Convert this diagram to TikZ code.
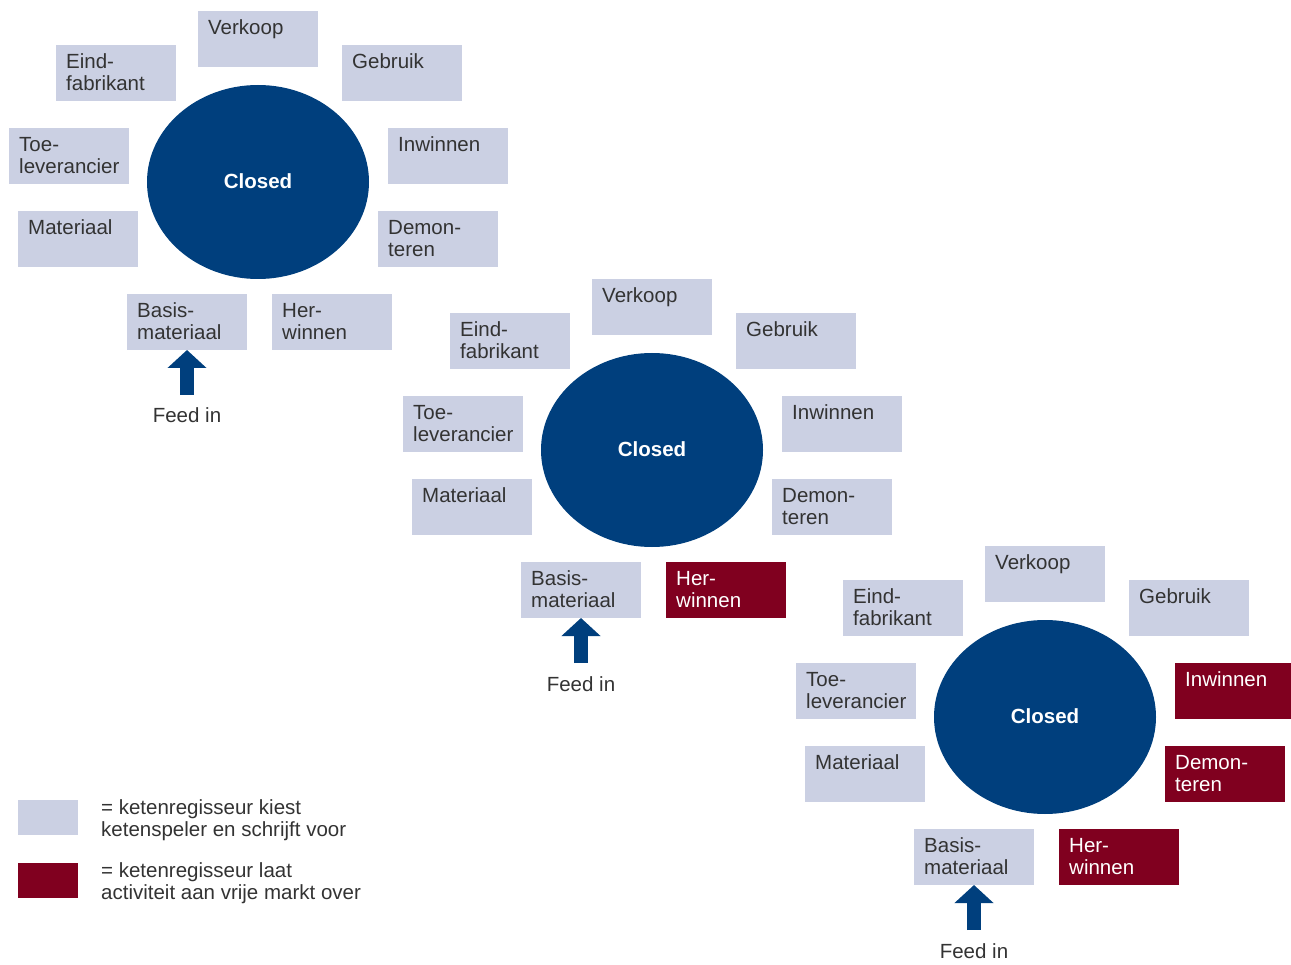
\documentclass[tikz,border=0pt]{standalone}
\usepackage{fontspec}
\setmainfont{Liberation Sans}
\usetikzlibrary{arrows.meta,shapes.geometric}

\definecolor{pale}{HTML}{CBD0E3}
\definecolor{wine}{HTML}{80001F}
\definecolor{navy}{HTML}{003F7D}
\definecolor{keptink}{HTML}{333333}
\definecolor{freedink}{HTML}{FFFFFF}

\tikzset{
  cell/.style={rectangle, anchor=north west, minimum width=120pt, minimum height=56pt,
    inner sep=0pt, outer sep=0pt},
  kept/.style={cell, fill=pale},
  freed/.style={cell, fill=wine},
  celltext/.style={anchor=north west, inner sep=0pt, align=left,
    font=\fontsize{20.5}{22}\selectfont},
  hub/.style={ellipse, fill=navy, minimum width=222pt, minimum height=194pt, inner sep=0pt,
    text=white, font=\fontsize{20.5}{24}\selectfont\bfseries},
  feedarrow/.style={navy, line width=14pt, -{Triangle[width=38pt,length=18pt]}},
  plain/.style={inner sep=0pt, text=keptink, align=left, font=\fontsize{20.5}{22}\selectfont},
  swatch/.style={rectangle, anchor=north west, minimum width=60pt, minimum height=35pt,
    inner sep=0pt, outer sep=0pt},
}

% one activity box: name, x, y, style (kept/freed), text
% (\strut fixes the first line's height, so the text hangs from the box top)
\newcommand\activity[5]{%
  \node[#4] (#1) at (#2,#3) {};
  \node[celltext, text=#4ink] (#1t) at ([shift={(10,8.1)}]#1.north west) {\strut #5};
}

% one chain around a "Closed" hub: prefix, x and y offset, styles of Inwinnen, Demonteren, Herwinnen
\newcommand\cyclegroup[6]{%
  \begin{scope}[shift={(#2,#3)}]
    \node[hub] (#1c) at (258,182) {\raisebox{1.5pt}{Closed}};
    \activity{#1ver}{198}{11}{kept}{Verkoop}
    \activity{#1eind}{56}{45}{kept}{Eind-\\fabrikant}
    \activity{#1geb}{342}{45}{kept}{Gebruik}
    \activity{#1toe}{9}{128}{kept}{Toe-\\leverancier}
    \activity{#1inw}{388}{128}{#4}{Inwinnen}
    \activity{#1mat}{18}{211}{kept}{Materiaal}
    \activity{#1dem}{378}{211}{#5}{Demon-\\teren}
    \activity{#1bas}{127}{294}{kept}{Basis-\\materiaal}
    \activity{#1her}{272}{294}{#6}{Her-\\winnen}
    \coordinate (#1f) at (187,395);
    \draw[feedarrow] (#1f) -- (#1bas.south);
    \node[plain, anchor=base] (#1feed) at (187,423) {Feed in};
  \end{scope}
}

\begin{document}
\begin{tikzpicture}[x=1pt, y=-1pt]
  \useasboundingbox (0,0) rectangle (1291,965);

  \cyclegroup{a}{0}{0}{kept}{kept}{kept}
  \cyclegroup{b}{394}{268}{kept}{kept}{freed}
  \cyclegroup{c}{787}{535}{freed}{freed}{freed}

  % legend
  \node[swatch, fill=pale] (keptkey) at (18,800) {};
  \node[swatch, fill=wine] (freedkey) at (18,863) {};
  \node[plain, anchor=north west] (keptnote) at (101,798.6)
    {\strut = ketenregisseur kiest\\ketenspeler en schrijft voor};
  \node[plain, anchor=north west] (freednote) at (101,861.6)
    {\strut = ketenregisseur laat\\activiteit aan vrije markt over};
\end{tikzpicture}
\end{document}
